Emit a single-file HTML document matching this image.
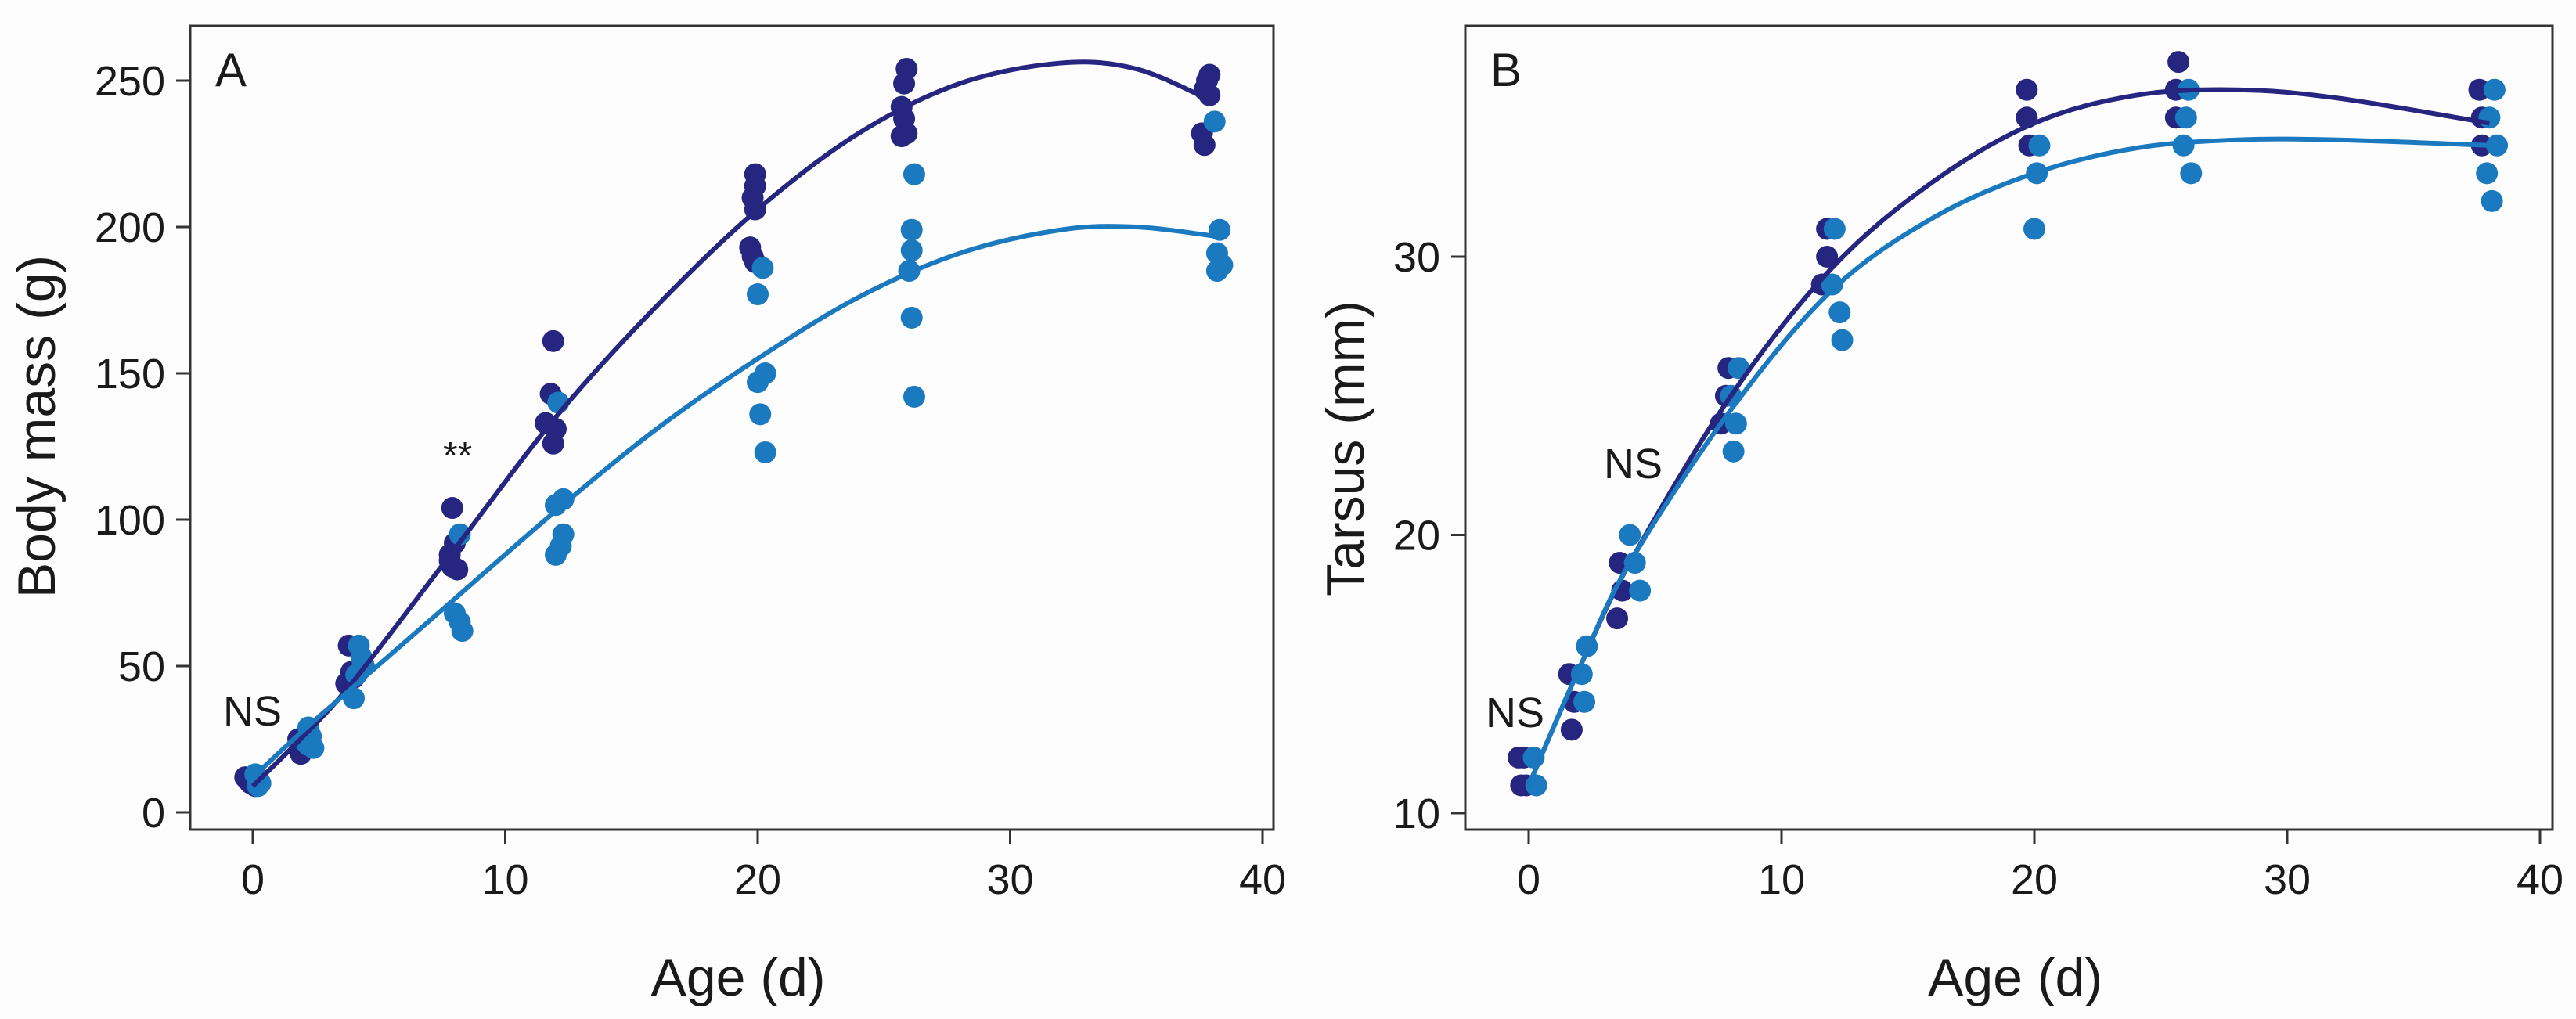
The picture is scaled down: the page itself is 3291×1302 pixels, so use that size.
<!DOCTYPE html>
<html><head><meta charset="utf-8">
<style>
html,body{margin:0;padding:0;background:#fff;}
svg{display:block;}
text{font-family:"Liberation Sans",sans-serif;fill:#1a1a1a;}
</style></head>
<body>
<svg id="chart" width="3291" height="1302" viewBox="0 0 3291 1302" xmlns="http://www.w3.org/2000/svg">
<rect width="3291" height="1302" fill="#fdfdfd"/>
</svg>
<script>
// ---- Panel A data (Body mass, g) ----
const massTicksY = [0, 50, 100, 150, 200, 250];
const ageTicks = [0, 10, 20, 30, 40];
const massDarkAge = [-0.3,-0.1,0.1,-0.2, 1.8,2.0,1.9,2.1, 3.8,3.9,3.7,4.0, 7.9,8.0,7.8,7.9,8.1,7.8, 11.9,11.8,11.6,12.0,11.9, 19.9,19.9,19.8,19.9,19.7,19.8,19.9, 25.9,25.8,25.7,25.8,25.9,25.7, 37.9,37.8,37.7,37.9,37.6,37.7];
const massDarkVal = [12,10,9,11, 25,22,20,24, 57,48,44,46, 104,92,88,84,83,86, 161,143,133,131,126, 218,214,210,206,193,190,188, 254,249,241,237,232,231, 252,250,247,245,232,228];
const massLightAge = [0.1,0.3,0.2, 2.2,2.3,2.1,2.4,2.2, 4.2,4.3,4.4,4.1,4.0, 8.2,8.0,8.2,8.3, 12.1,12.3,12.0,12.3,12.2,12.0, 20.2,20.0,20.3,20.0,20.1,20.3, 26.2,26.1,26.1,26.0,26.1,26.2, 38.1,38.3,38.2,38.4,38.2];
const massLightVal = [13,10,9, 29,26,24,22,23, 57,53,50,47,39, 95,68,65,62, 140,107,105,95,91,88, 186,177,150,147,136,123, 218,199,192,185,169,142, 236,199,191,187,185];
const fitAgeA = [0, 2, 4, 8, 12, 16, 20, 24, 28, 32, 35, 38];
const fitDarkA = [9, 26, 45, 90, 135, 173, 206, 232, 249, 256, 254, 243];
const fitLightA = [12, 28, 43, 73, 103, 131, 155, 176, 191, 199, 200, 197];

// ---- Panel B data (Tarsus, mm) ----
const tarsusTicksY = [10, 20, 30];
const tarDarkAge = [-0.4,-0.2,-0.3,-0.1, 1.6,1.8,1.7, 3.6,3.7,3.5, 7.9,7.8,7.6, 11.8,11.8,11.6, 19.7,19.7,19.8, 25.7,25.6,25.6, 37.6,37.7,37.7];
const tarDarkVal = [12,12,11,11, 15,14,13, 19,18,17, 26,25,24, 31,30,29, 36,35,34, 37,36,35, 36,35,34];
const tarLightAge = [0.2,0.3, 2.3,2.1,2.2, 4.0,4.2,4.4, 8.3,8.0,8.2,8.1, 12.1,12.0,12.3,12.4, 20.2,20.1,20.0, 26.1,26.0,25.9,26.2, 38.2,38.0,38.3,37.9,38.1];
const tarLightVal = [12,11, 16,15,14, 20,19,18, 26,25,24,23, 31,29,28,27, 34,33,31, 36,35,34,33, 36,35,34,33,32];
const fitAgeB = [0, 2, 4, 8, 12, 16, 20, 24, 28, 32, 38];
const fitDarkB = [11, 15.2, 19, 25, 29.6, 32.7, 34.8, 35.8, 36.0, 35.7, 34.8];
const fitLightB = [11, 15.2, 19, 24.5, 28.8, 31.4, 33.0, 33.9, 34.2, 34.2, 34.0];

const NAVY = "#262580", BLUE = "#1b79bf";
const svg = document.getElementById('chart');
const NS = "http://www.w3.org/2000/svg";
function mk(tag, attrs, parent){ const e=document.createElementNS(NS,tag); for(const k in attrs) e.setAttribute(k,attrs[k]); (parent||svg).appendChild(e); return e; }

function panel(cfg){
  const g = mk('g',{});
  
  
  const sx = v => cfg.x0px + (v - 0) * (cfg.x40px - cfg.x0px) / 40;
  const sy = v => cfg.yAp + (v - cfg.yA) * (cfg.yBp - cfg.yAp) / (cfg.yB - cfg.yA);
  function curve(xs, ys, color, nm){
    const p = xs.map((x,i)=>[sx(x), sy(ys[i])]);
    let d = `M${p[0][0]},${p[0][1]}`;
    for(let i=0;i<p.length-1;i++){
      const p0=p[Math.max(i-1,0)], p1=p[i], p2=p[i+1], p3=p[Math.min(i+2,p.length-1)];
      const c1=[p1[0]+(p2[0]-p0[0])/6, p1[1]+(p2[1]-p0[1])/6];
      const c2=[p2[0]-(p3[0]-p1[0])/6, p2[1]-(p3[1]-p1[1])/6];
      d += ` C${c1[0]},${c1[1]} ${c2[0]},${c2[1]} ${p2[0]},${p2[1]}`;
    }
    const e = mk('path',{d:d, fill:'none', stroke:color, 'stroke-width':6}, g);
    
    
  }
  function dots(xs, ys, color, nm){
    xs.forEach((x,i)=>{
      const c = mk('circle',{cx:sx(x), cy:sy(ys[i]), r:14, fill:color}, g);
      
      
    });
  }
  dots(cfg.darkX, cfg.darkY, NAVY, 'point-dark');
  dots(cfg.lightX, cfg.lightY, BLUE, 'point-light');
  curve(cfg.fitX, cfg.fitDark, NAVY, 'fit-curve-dark');
  curve(cfg.fitX, cfg.fitLight, BLUE, 'fit-curve-light');
  const fr = mk('rect',{x:cfg.left, y:cfg.top, width:cfg.right-cfg.left, height:cfg.bottom-cfg.top, fill:'none', stroke:'#333', 'stroke-width':3}, g);
  
  
  cfg.yTicks.forEach(t=>{
    const y = sy(t);
    const l = mk('line',{x1:cfg.left-18, x2:cfg.left, y1:y, y2:y, stroke:'#333','stroke-width':3}, g);
    
    
    const tx = mk('text',{x:cfg.left-32, y:y+19, 'text-anchor':'end','font-size':54}, g);
    tx.textContent = t;
    
    
  });
  ageTicks.forEach(t=>{
    const x = sx(t);
    const l = mk('line',{x1:x, x2:x, y1:cfg.bottom, y2:cfg.bottom+18, stroke:'#333','stroke-width':3}, g);
    
    
    const tx = mk('text',{x:x, y:cfg.bottom+82, 'text-anchor':'middle','font-size':54}, g);
    tx.textContent = t;
    
    
  });
  const xt = mk('text',{x:(cfg.left+cfg.right)/2 + 8, y:1272, 'text-anchor':'middle','font-size':68}, g);
  xt.textContent = 'Age (d)';
  
  
  const yt = mk('text',{x:0, y:0, 'text-anchor':'middle','font-size':68, transform:`translate(${cfg.yTitleX},${cfg.yTitleY}) rotate(-90)`}, g);
  yt.textContent = cfg.yTitle;
  
  
  const pl = mk('text',{x:cfg.left+32, y:110, 'font-size':60}, g);
  pl.textContent = cfg.letter;
  
  
  cfg.notes.forEach(n=>{
    const e = mk('text',{x:n[0], y:n[1], 'font-size':n[3]}, g);
    e.textContent = n[2];
    
    
  });
}

panel({name:'panel-a-body-mass', letter:'A', left:243, right:1627, top:33, bottom:1060,
  x0px:323, x40px:1613, yA:0, yAp:1038, yB:250, yBp:103, yTicks:massTicksY,
  darkX:massDarkAge, darkY:massDarkVal, lightX:massLightAge, lightY:massLightVal,
  fitX:fitAgeA, fitDark:fitDarkA, fitLight:fitLightA,
  yTitle:'Body mass (g)', yTitleX:70, yTitleY:545,
  notes:[[285,927,'NS',54],[566,598,'**',48]]});

panel({name:'panel-b-tarsus', letter:'B', left:1872, right:3261, top:33, bottom:1060,
  x0px:1953, x40px:3245, yA:10, yAp:1039, yB:30, yBp:328, yTicks:tarsusTicksY,
  darkX:tarDarkAge, darkY:tarDarkVal, lightX:tarLightAge, lightY:tarLightVal,
  fitX:fitAgeB, fitDark:fitDarkB, fitLight:fitLightB,
  yTitle:'Tarsus (mm)', yTitleX:1742, yTitleY:573,
  notes:[[1898,929,'NS',54],[2049,611,'NS',54]]});
</script>
</body></html>
